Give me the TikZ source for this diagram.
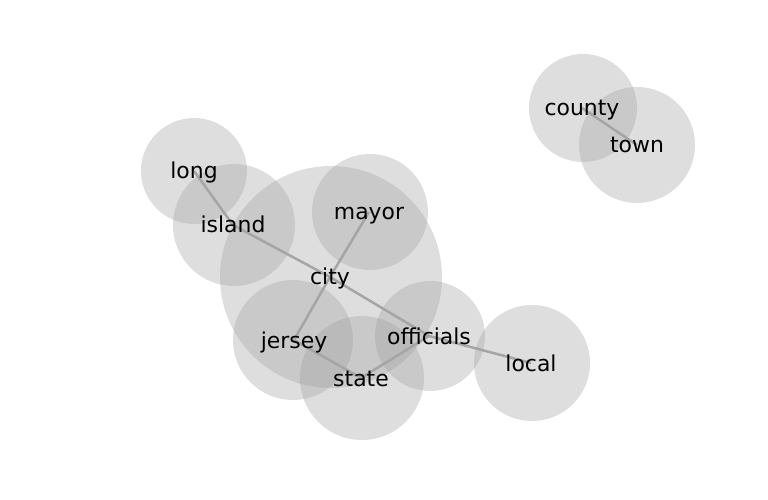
\documentclass[tikz,border=0pt]{standalone}
\usepackage{fontspec}
\setmainfont{DejaVu Sans}
\definecolor{bubble}{RGB}{156,156,156}
\definecolor{edgegray}{RGB}{165,165,165}
\pgfdeclarelayer{back}
\pgfsetlayers{back,main}
\tikzset{word/.style={inner sep=0pt, text height=16bp, text depth=0pt, font=\fontsize{22}{24}\selectfont}}
\begin{document}
\begin{tikzpicture}[x=1bp,y=-1bp]
\useasboundingbox (0,0) rectangle (768,500);

\node [word] (long) at (194,171) {long};
\node [word] (island) at (233,225) {island};
\node [word] (mayor) at (369,212) {mayor};
\node [word] (city) at (330,277) {city};
\node [word] (jersey) at (294,340) {jersey};
\node [word] (state) at (361,378) {state};
\node [word] (officials) at (429,336) {officials};
\node [word] (local) at (531,363) {local};
\node [word] (county) at (582,108) {county};
\node [word] (town) at (637,145) {town};

\begin{pgfonlayer}{back}
\fill [bubble, fill opacity=0.33] (194,171) circle (53);
\fill [bubble, fill opacity=0.33] (234,225) circle (61);
\fill [bubble, fill opacity=0.33] (370,212) circle (58);
\fill [bubble, fill opacity=0.33] (331,277) circle (111);
\fill [bubble, fill opacity=0.33] (293,340) circle (60);
\fill [bubble, fill opacity=0.33] (362,378) circle (62);
\fill [bubble, fill opacity=0.33] (430,336) circle (55);
\fill [bubble, fill opacity=0.33] (532,363) circle (58);
\fill [bubble, fill opacity=0.33] (583,108) circle (54);
\fill [bubble, fill opacity=0.33] (637,145) circle (58);

\draw [edgegray, line width=2.5bp] (long.center)--(island.center)--(city.center)--(officials.center)--(local.center);
\draw [edgegray, line width=2.5bp] (mayor.center)--(city.center)--(jersey.center)--(state.center)--(officials.center);
\draw [edgegray, line width=2.5bp] (county.center)--(town.center);
\end{pgfonlayer}

\end{tikzpicture}
\end{document}
